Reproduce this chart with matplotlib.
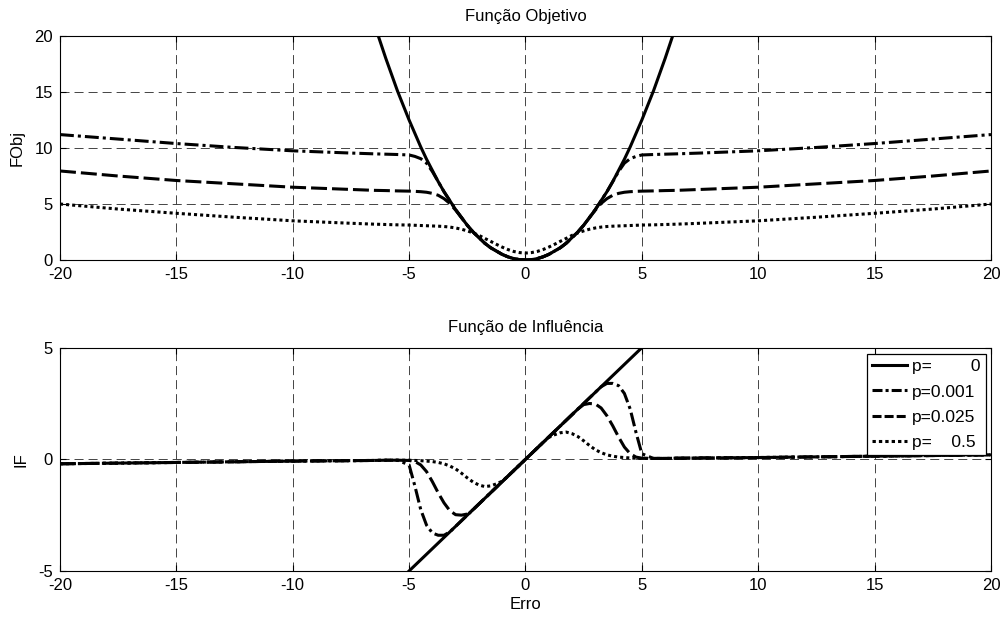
import matplotlib
matplotlib.use('Agg')
from matplotlib import pyplot as plt
from matplotlib.lines import Line2D

plt.rcParams['font.family'] = ['Liberation Sans', 'DejaVu Sans']
plt.rcParams['font.size'] = 12
plt.rcParams['axes.unicode_minus'] = False
plt.rcParams['lines.scale_dashes'] = False

# eixo comum (erro)
erro = [-20, -17.5, -15, -12.5, -10, -7.5, -6.5, -6, -5.5,
        -5, -4.75, -4.5, -4.25, -4, -3.75, -3.5, -3.25, -3, -2.75,
        -2.5, -2.25, -2, -1.75, -1.5, -1.25, -1, -0.75, -0.5, -0.25,
        0,
        0.25, 0.5, 0.75, 1, 1.25, 1.5, 1.75, 2, 2.25, 2.5,
        2.75, 3, 3.25, 3.5, 3.75, 4, 4.25, 4.5, 4.75, 5,
        5.5, 6, 6.5, 7.5, 10, 12.5, 15, 17.5, 20]

# funcao objetivo
fobj_p0 = [200, 153.1, 112.5, 78.1, 50, 28.1, 21.1, 18.0, 15.1,
           12.5, 11.3, 10.1, 9.0, 8.0, 7.0, 6.1, 5.3, 4.5, 3.8,
           3.1, 2.5, 2.0, 1.5, 1.1, 0.8, 0.5, 0.28, 0.12, 0.03,
           0,
           0.03, 0.12, 0.28, 0.5, 0.8, 1.1, 1.5, 2.0, 2.5, 3.1,
           3.8, 4.5, 5.3, 6.1, 7.0, 8.0, 9.0, 10.1, 11.3, 12.5,
           15.1, 18.0, 21.1, 28.1, 50, 78.1, 112.5, 153.1, 200]
fobj_p001 = [11.2, 10.8, 10.4, 10.05, 9.75, 9.55, 9.48, 9.45, 9.42,
             9.38, 9.25, 9.05, 8.65, 7.9, 7.0, 6.1, 5.3, 4.5, 3.8,
             3.1, 2.5, 2.0, 1.5, 1.1, 0.8, 0.5, 0.28, 0.12, 0.03,
             0.01,
             0.03, 0.12, 0.28, 0.5, 0.8, 1.1, 1.5, 2.0, 2.5, 3.1,
             3.8, 4.5, 5.3, 6.1, 7.0, 7.9, 8.65, 9.05, 9.25, 9.38,
             9.42, 9.45, 9.48, 9.55, 9.75, 10.05, 10.4, 10.8, 11.2]
fobj_p025 = [7.95, 7.5, 7.1, 6.8, 6.5, 6.3, 6.22, 6.2, 6.17,
             6.15, 6.13, 6.1, 6.05, 5.95, 5.78, 5.48, 5.05, 4.45, 3.78,
             3.1, 2.5, 2.0, 1.5, 1.1, 0.8, 0.5, 0.28, 0.12, 0.03,
             0.02,
             0.03, 0.12, 0.28, 0.5, 0.8, 1.1, 1.5, 2.0, 2.5, 3.1,
             3.78, 4.45, 5.05, 5.48, 5.78, 5.95, 6.05, 6.1, 6.13, 6.15,
             6.17, 6.2, 6.22, 6.3, 6.5, 6.8, 7.1, 7.5, 7.95]
fobj_p5 = [5.0, 4.55, 4.17, 3.82, 3.5, 3.28, 3.2, 3.17, 3.14,
           3.12, 3.1, 3.08, 3.06, 3.04, 3.02, 2.99, 2.94, 2.86, 2.75,
           2.6, 2.42, 2.2, 1.93, 1.67, 1.4, 1.15, 0.93, 0.76, 0.66,
           0.62,
           0.66, 0.76, 0.93, 1.15, 1.4, 1.67, 1.93, 2.2, 2.42, 2.6,
           2.75, 2.86, 2.94, 2.99, 3.02, 3.04, 3.06, 3.08, 3.1, 3.12,
           3.14, 3.17, 3.2, 3.28, 3.5, 3.82, 4.17, 4.55, 5.0]

# funcao de influencia
if_p0 = [-20, -17.5, -15, -12.5, -10, -7.5, -6.5, -6, -5.5,
         -5, -4.75, -4.5, -4.25, -4, -3.75, -3.5, -3.25, -3, -2.75,
         -2.5, -2.25, -2, -1.75, -1.5, -1.25, -1, -0.75, -0.5, -0.25,
         0,
         0.25, 0.5, 0.75, 1, 1.25, 1.5, 1.75, 2, 2.25, 2.5,
         2.75, 3, 3.25, 3.5, 3.75, 4, 4.25, 4.5, 4.75, 5,
         5.5, 6, 6.5, 7.5, 10, 12.5, 15, 17.5, 20]
if_p001 = [-0.2, -0.17, -0.14, -0.11, -0.08, -0.06, -0.05, -0.04, -0.04,
           -0.25, -1.2, -2.25, -2.95, -3.3, -3.4, -3.4, -3.25, -3.0, -2.75,
           -2.5, -2.25, -2.0, -1.75, -1.5, -1.25, -1.0, -0.75, -0.5, -0.25,
           0,
           0.25, 0.5, 0.75, 1.0, 1.25, 1.5, 1.75, 2.0, 2.25, 2.5,
           2.75, 3.0, 3.25, 3.4, 3.4, 3.3, 2.95, 2.25, 1.2, 0.25,
           0.04, 0.04, 0.05, 0.06, 0.08, 0.11, 0.14, 0.17, 0.2]
if_p025 = [-0.2, -0.17, -0.14, -0.11, -0.08, -0.06, -0.05, -0.04, -0.04,
           -0.05, -0.1, -0.25, -0.55, -1.0, -1.5, -1.95, -2.3, -2.48, -2.5,
           -2.45, -2.25, -2.0, -1.75, -1.5, -1.25, -1.0, -0.75, -0.5, -0.25,
           0,
           0.25, 0.5, 0.75, 1.0, 1.25, 1.5, 1.75, 2.0, 2.25, 2.45,
           2.5, 2.48, 2.3, 1.95, 1.5, 1.0, 0.55, 0.25, 0.1, 0.05,
           0.04, 0.04, 0.05, 0.06, 0.08, 0.11, 0.14, 0.17, 0.2]
if_p5 = [-0.2, -0.17, -0.14, -0.11, -0.08, -0.06, -0.05, -0.04, -0.04,
         -0.04, -0.05, -0.06, -0.08, -0.1, -0.14, -0.2, -0.3, -0.43, -0.62,
         -0.83, -1.02, -1.15, -1.22, -1.19, -1.1, -0.98, -0.75, -0.5, -0.25,
         0,
         0.25, 0.5, 0.75, 0.98, 1.1, 1.19, 1.22, 1.15, 1.02, 0.83,
         0.62, 0.43, 0.3, 0.2, 0.14, 0.1, 0.08, 0.06, 0.05, 0.04,
         0.04, 0.04, 0.05, 0.06, 0.08, 0.11, 0.14, 0.17, 0.2]

rotulos = ['p=        0', 'p=0.001', 'p=0.025', 'p=    0.5']

estilos = ['-', (0, (10, 2.9, 2.2, 2.9)), (0, (11.5, 3.6)), (0, (2.2, 2.2))]
estilos_leg = ['-', (0, (7.2, 2.2, 2.2, 2.2)), (0, (6.5, 2.2)), (0, (2.4, 2.2))]
lw = 2.2

fig = plt.figure(figsize=(10.08, 6.17), dpi=100)
ax1 = fig.add_axes([0.0595, 0.5786, 0.9236, 0.3630])
ax2 = fig.add_axes([0.0595, 0.0746, 0.9236, 0.3619])

for y, ls in zip([fobj_p0, fobj_p001, fobj_p025, fobj_p5], estilos):
    ax1.plot(erro, y, color='k', lw=lw, linestyle=ls)
for y, ls in zip([if_p0, if_p001, if_p025, if_p5], estilos):
    ax2.plot(erro, y, color='k', lw=lw, linestyle=ls)

for ax in (ax1, ax2):
    ax.set_xlim(-20, 20)
    ax.set_xticks(range(-20, 21, 5))
    ax.grid(True, color='0.15', lw=0.6, linestyle=(0, (6.5, 3.6)))
    ax.tick_params(direction='in', length=4, width=0.8, top=True, right=True, pad=5, labelsize=12)
    for s in ax.spines.values():
        s.set_linewidth(0.8)

ax1.set_ylim(0, 20)
ax1.set_yticks([0, 5, 10, 15, 20])
ax1.set_title('Função Objetivo', fontsize=12, pad=11)
ax1.set_ylabel('FObj', labelpad=7)

ax2.set_ylim(-5, 5)
ax2.set_yticks([-5, 0, 5])
ax2.set_title('Função de Influência', fontsize=12, pad=11)
ax2.set_ylabel('IF', labelpad=7)
ax2.set_xlabel('Erro', labelpad=3)

handles = [Line2D([], [], color='k', lw=lw, linestyle=ls) for ls in estilos_leg]
leg = ax2.legend(handles, rotulos, loc='upper right', bbox_to_anchor=(0.9946, 0.9718),
                 borderaxespad=0, fancybox=False, framealpha=1, edgecolor='k',
                 handlelength=2.0, handletextpad=0.3, borderpad=0.3, labelspacing=0.58,
                 fontsize=12.5)
leg.get_frame().set_linewidth(0.9)

fig.savefig('out.png', dpi=100)
